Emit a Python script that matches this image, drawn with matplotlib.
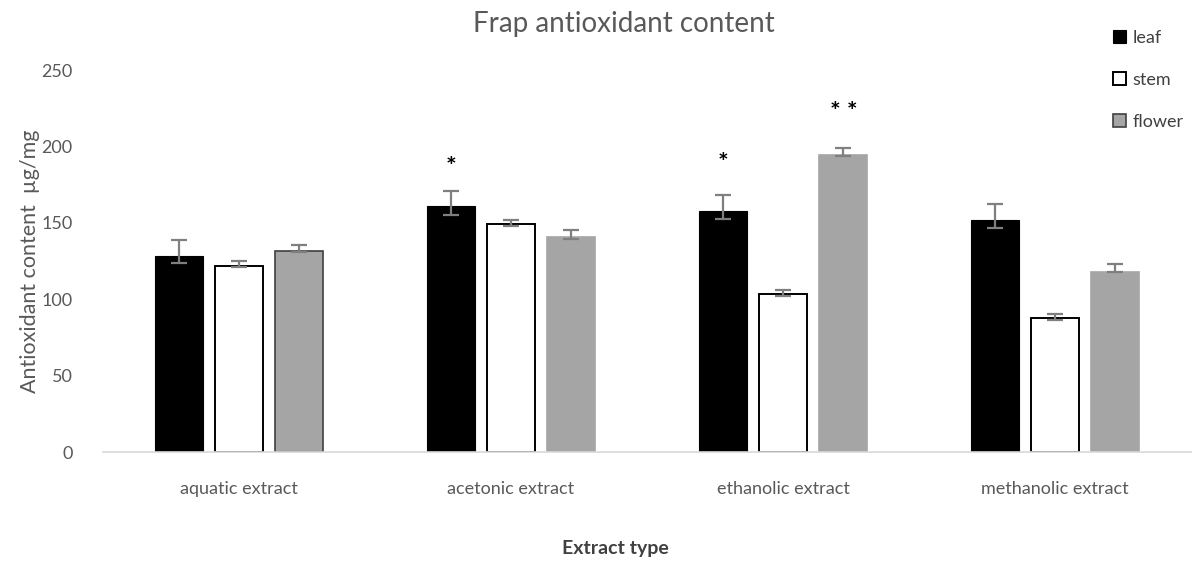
import matplotlib
matplotlib.use("Agg")
import matplotlib.pyplot as plt
import numpy as np

# values (antioxidant content, ug/mg)
categories = ["aquatic extract", "acetonic extract", "ethanolic extract", "methanolic extract"]
series_names = ["leaf", "stem", "flower"]

leaf = [128.7, 161.2, 157.9, 151.8]
stem = [122.1, 149.4, 103.4, 87.7]
flower = [131.5, 141.1, 194.6, 118.2]

# error bars: (below, above) the bar top
leaf_err = [[4.6, 5.7, 5.4, 4.8], [10.0, 10.0, 10.3, 10.9]]
stem_err = [[1.1, 1.3, 1.4, 1.1], [2.9, 2.8, 2.6, 2.6]]
flower_err = [[0.6, 1.3, 0.5, 0.4], [4.2, 4.2, 4.7, 4.8]]

# significance marks: (category index, series index, text, y)
marks = [(1, 0, "*", 186.5), (2, 0, "*", 188.6), (2, 2, "* *", 222.0)]

plt.rcParams["font.family"] = ["Lato", "DejaVu Sans"]

fig = plt.figure(figsize=(11.97, 5.65), dpi=100)
ax = fig.add_axes([0.086, 0.1995, 0.909, 0.6765])

x = np.arange(len(categories))
width = 0.176
offset = 0.222

err_kw = dict(ecolor="#7f7f7f", elinewidth=1.6, capsize=6, capthick=1.6)

ax.bar(x - offset, leaf, width, color="black", edgecolor="black", linewidth=0.8,
       yerr=leaf_err, error_kw=err_kw, label="leaf", zorder=2)
ax.bar(x, stem, width, color="white", edgecolor="black", linewidth=1.4,
       yerr=stem_err, error_kw=err_kw, label="stem", zorder=2)
ax.bar(x + offset, flower, width, color="#a5a5a5",
       edgecolor=["#404040", "#a5a5a5", "#a5a5a5", "#a5a5a5"], linewidth=1.2,
       yerr=flower_err, error_kw=err_kw, label="flower", zorder=2)

for ci, si, txt, yv in marks:
    ax.text(x[ci] + (si - 1) * offset, yv, txt, ha="center", va="center",
            fontsize=18, color="black", fontweight="bold")

ax.set_xlim(-0.5, len(categories) - 0.5)
ax.set_ylim(0, 250)
ax.set_yticks([0, 50, 100, 150, 200, 250])
ax.set_xticks(x)
ax.set_xticklabels(categories)
ax.tick_params(axis="both", length=0, labelsize=13, colors="#595959")
ax.tick_params(axis="x", pad=21)
ax.tick_params(axis="y", pad=22)

for side in ["top", "right", "left"]:
    ax.spines[side].set_visible(False)
ax.spines["bottom"].set_color("#d9d9d9")
ax.spines["bottom"].set_linewidth(1.2)

ax.set_ylabel("Antioxidant content  \u00b5g/mg", fontsize=15.5, color="#595959", labelpad=1)
fig.text(0.514, 0.030, "Extract type", ha="center", va="center",
         fontsize=14, color="#404040", fontweight="bold")
fig.text(0.521, 0.958, "Frap antioxidant content", ha="center", va="center",
         fontsize=20, color="#595959")

leg = ax.legend(loc="upper left", bbox_to_anchor=(0.913, 1.148), frameon=False,
                fontsize=13, labelspacing=1.45, handlelength=0.75, handleheight=0.75,
                handletextpad=0.35)
for t in leg.get_texts():
    t.set_color("#404040")

fig.savefig("out.png", dpi=100)
